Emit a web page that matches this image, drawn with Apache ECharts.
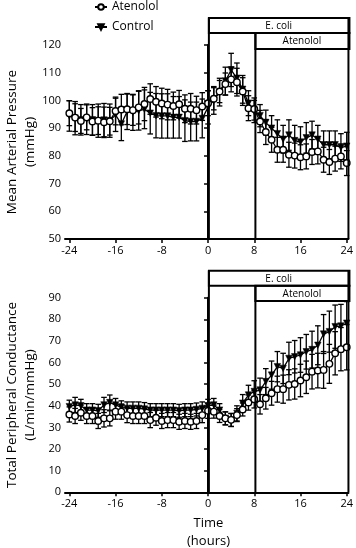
<!DOCTYPE html>
<html><head><meta charset="utf-8">
<script src="https://cdn.jsdelivr.net/npm/echarts@6/dist/echarts.min.js"></script>
<style>html,body{margin:0;padding:0;background:#fff}#c{width:356px;height:548px}</style>
</head><body><div id="c"></div>
<script>
const hours = [-24,-23,-22,-21,-20,-19,-18,-17,-16,-15,-14,-13,-12,-11,-10,-9,-8,-7,-6,-5,-4,-3,-2,-1,0,1,2,3,4,5,6,7,8,9,10,11,12,13,14,15,16,17,18,19,20,21,22,23,24];
const xTickLabels = [-24,-16,-8,0,8,16,24];
const seriesNames = ['Atenolol','Control'];

const mapAtenolol = [95.4,93.8,92.6,93.9,92.4,92.7,92.1,92.5,96.2,96.7,96.8,96.5,97.5,98.7,100.5,99.5,98.9,98.5,98.0,98.6,97.0,97.0,96.5,97.8,99.0,100.6,103.2,105.9,107.6,106.6,103.2,97.2,96.9,92.4,88.6,85.8,82.2,82.2,80.4,80.1,79.5,79.8,81.4,81.6,78.6,77.8,79.0,79.8,77.4];
const mapAtenololSem = [4.5,5,4.5,4.5,5,5,5.5,5,5,5.5,5.5,5.5,6,6,5.5,5.5,5.5,5.5,5,5,5,5.5,5,5,4.5,4,4,4,4.5,5,5,4.5,4,4,4.5,4.5,4.5,4.5,4.5,4.5,4.5,4.5,4.5,4.5,4.5,4.5,4.5,4.5,4.5];
const mapControl = [94.4,93.6,93.0,93.2,93.0,92.7,92.9,92.7,94.8,91.5,96.0,95.7,96.3,96.8,95.4,94.5,94.4,94.4,93.9,93.9,92.7,92.4,92.4,93.5,97.5,100.0,103.0,107.0,111.0,108.0,104.0,99.0,96.0,94.5,92.0,90.0,88.0,86.0,87.5,85.5,85.0,86.5,87.5,86.0,84.0,84.0,84.0,83.0,83.5];
const mapControlSem = [5.5,6,5.5,5.5,5.5,6,6,6,6,6,6.5,6.5,7,7,7.5,8,8,8,7.5,7.5,7.5,7,7,7,6,5,5,5,6,5.5,5,4.5,4,4,4.5,4.5,5,5,5.5,5.5,5.5,5.5,5,5,5,5,5,5,5];

const tpcAtenolol = [36.0,35.3,36.8,35.3,35.3,33.0,34.2,34.2,37.3,37.3,35.7,35.3,35.3,35.3,33.4,34.5,33.0,33.4,33.4,32.6,33.0,32.6,33.0,35.7,37.7,37.3,35.3,34.2,33.5,35.7,38.3,41.5,43.0,40.7,43.5,45.8,47.7,47.7,49.7,50.1,51.7,53.2,55.8,56.3,56.6,59.4,64.3,66.2,67.1];
const tpcAtenololSem = [3.5,3.5,3.5,3.5,3.5,3.5,4,3.5,3.5,3.5,3.5,3.5,3.5,3.5,3.5,3.5,3.5,3.5,3.5,3.5,3.5,3.5,3.5,3.5,3.5,3,3,3,3,3,3,3.5,4,4.5,5,5.5,6,6.5,7,7,7.5,7.5,8,8,8.5,9,10,10,10.5];
const tpcControl = [39.6,40.4,40.0,38.0,38.0,37.7,40.4,41.5,40.4,39.3,38.8,38.8,38.8,38.5,38.0,38.0,38.0,38.0,38.0,37.7,38.0,38.0,38.3,38.8,40.0,40.4,38.0,34.2,33.4,36.5,41.2,45.0,46.6,47.3,51.2,54.2,58.1,57.3,61.9,62.7,63.5,65.0,66.0,68.0,73.2,74.3,76.6,76.9,78.2];
const tpcControlSem = [3,3.5,3,3,3,3,3.5,3.5,3,3,3,3,3,3,3,3,3,3,3,3,3,3,3,3,3,3,3,3,3,3.5,4,4.5,5,5.5,6,6.5,7,7,7.5,7.5,8,8,8.5,9,9,9.5,10,10,10];

const FONT = 'Open Sans';
const chart = echarts.init(document.getElementById('c'), null, {renderer:'canvas'});

function errSeries(gi, vals, sems){
  return {
    type:'custom', xAxisIndex:gi, yAxisIndex:gi, silent:true, z:1,
    data: hours.map((h,i)=>[h, vals[i]-sems[i], vals[i]+sems[i]]),
    encode:{x:0, y:[1,2]},
    renderItem(params, api){
      const x = api.value(0);
      const lo = api.coord([x, api.value(1)]);
      const hi = api.coord([x, api.value(2)]);
      const w = 2.8, st = {stroke:'#000', lineWidth:1.3};
      return {type:'group', children:[
        {type:'line', shape:{x1:lo[0],y1:lo[1],x2:hi[0],y2:hi[1]}, style:st},
        {type:'line', shape:{x1:hi[0]-w,y1:hi[1],x2:hi[0]+w,y2:hi[1]}, style:st},
        {type:'line', shape:{x1:lo[0]-w,y1:lo[1],x2:lo[0]+w,y2:lo[1]}, style:st}
      ]};
    }
  };
}
function lineSeries(gi, name, vals, open){
  return {
    type:'line', name:name, xAxisIndex:gi, yAxisIndex:gi, z:open?4:3,
    data: hours.map((h,i)=>[h, vals[i]]),
    symbol: open ? 'circle' : 'triangle', symbolRotate: open ? 0 : 180,
    symbolSize: open ? 6.5 : 6.5,
    lineStyle:{color:'#000', width:1.3},
    itemStyle: open ? {color:'#fff', borderColor:'#000', borderWidth:1.4} : {color:'#000', borderColor:'#000', borderWidth:0.5},
    animation:false
  };
}
function xAx(gi){
  return {gridIndex:gi, type:'value', min:-24.75, max:24.3,
    axisLine:{show:true, onZero:false, lineStyle:{color:'#000', width:2}},
    axisTick:{show:true, customValues:xTickLabels, length:4, lineStyle:{color:'#000', width:1.5}},
    axisLabel:{customValues:xTickLabels, color:'#000', fontSize:11, fontFamily:FONT, margin:6},
    splitLine:{show:false}};
}
function yAx(gi, min, max){
  return {gridIndex:gi, type:'value', min:min, max:max, interval:10,
    axisLine:{show:true, lineStyle:{color:'#000', width:2}},
    axisTick:{show:true, length:4, lineStyle:{color:'#000', width:1.5}},
    axisLabel:{color:'#000', fontSize:11, fontFamily:FONT, margin:4},
    splitLine:{show:false}};
}

chart.setOption({
  animation:false,
  backgroundColor:'#fff',
  grid:[{left:65, top:45, width:286, height:194}, {left:65, top:297.7, width:286, height:194.6}],
  xAxis:[xAx(0), xAx(1)],
  yAxis:[yAx(0,50,120), yAx(1,0,90)],
  legend:{orient:'vertical', left:89, top:-4, itemGap:8, itemWidth:12, itemHeight:7,
    textStyle:{fontSize:12, fontFamily:FONT, color:'#000'}, data:seriesNames},
  series:[
    errSeries(0, mapControl, mapControlSem),
    errSeries(0, mapAtenolol, mapAtenololSem),
    lineSeries(0, 'Control', mapControl, false),
    lineSeries(0, 'Atenolol', mapAtenolol, true),
    errSeries(1, tpcControl, tpcControlSem),
    errSeries(1, tpcAtenolol, tpcAtenololSem),
    lineSeries(1, 'Control', tpcControl, false),
    lineSeries(1, 'Atenolol', tpcAtenolol, true)
  ]
});

function px(gi, x, y){ return chart.convertToPixel({gridIndex:gi}, [x, y]); }
const g = [];
const ls = {stroke:'#000', lineWidth:2, fill:null};
function phaseBoxes(gi, ymin, topE, topA, botA){
  const x0 = px(gi, 0.15, ymin)[0], x8 = px(gi, 8.2, ymin)[0], xr = px(gi, 24.3, ymin)[0];
  const yb = px(gi, 0, ymin)[1];
  g.push({type:'line', shape:{x1:x0,y1:topE,x2:x0,y2:yb}, style:ls, z:10});
  g.push({type:'line', shape:{x1:x8,y1:topA,x2:x8,y2:yb}, style:ls, z:10});
  g.push({type:'line', shape:{x1:xr,y1:topE,x2:xr,y2:yb}, style:ls, z:10});
  g.push({type:'rect', shape:{x:x0, y:topE, width:xr-x0+1, height:topA-topE}, style:ls, z:10});
  g.push({type:'rect', shape:{x:x8, y:topA, width:xr-x8+1, height:botA-topA}, style:ls, z:10});
  g.push({type:'text', x:(x0+xr)/2, y:(topE+topA)/2+0.5, z:11, style:{text:'E. coli', fill:'#000', font:'10px "Open Sans"', align:'center', verticalAlign:'middle'}});
  g.push({type:'text', x:(x8+xr)/2, y:(topA+botA)/2+0.5, z:11, style:{text:'Atenolol', fill:'#000', font:'10px "Open Sans"', align:'center', verticalAlign:'middle'}});
}
phaseBoxes(0, 50, 18, 33, 49);
phaseBoxes(1, 0, 270.7, 285.7, 301);
function vtitle(cx, cy, text){
  g.push({type:'text', x:cx, y:cy, rotation:Math.PI/2, style:{text:text, fill:'#000', font:'13.5px "Open Sans"', align:'center', verticalAlign:'middle', lineHeight:18}});
}
vtitle(21, 142, 'Mean Arterial Pressure\n(mmHg)');
vtitle(21, 395, 'Total Peripheral Conductance\n(L/min/mmHg)');
g.push({type:'text', x:208.5, y:532, style:{text:'Time\n(hours)', fill:'#000', font:'13px "Open Sans"', align:'center', verticalAlign:'middle', lineHeight:18}});
chart.setOption({graphic:g});
</script>
</body></html>
